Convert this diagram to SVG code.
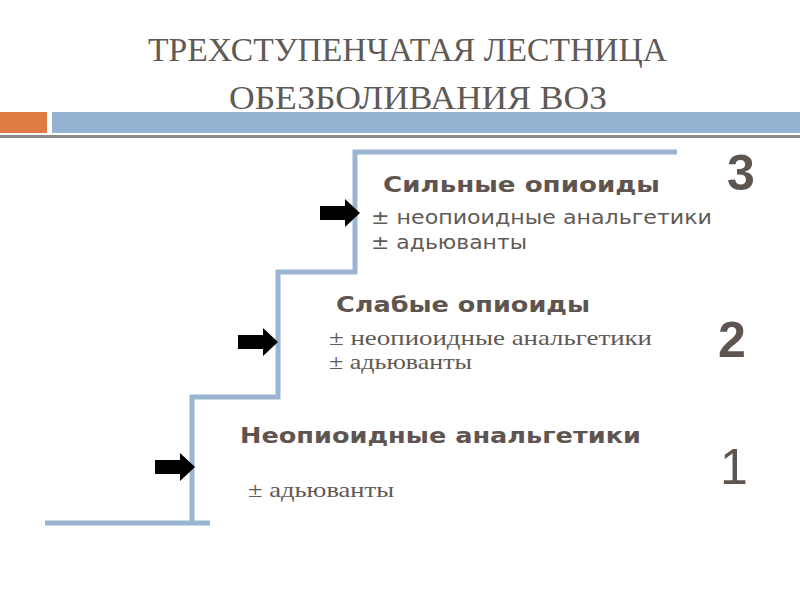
<svg xmlns="http://www.w3.org/2000/svg" width="800" height="600" viewBox="0 0 800 600">
<defs><style>
.t{font-family:"Liberation Serif",serif;fill:#5f5a55;font-size:34px}
.h{font-family:"DejaVu Sans","Liberation Sans",sans-serif;font-weight:bold;fill:#5f5550;font-size:22px}
.s{font-family:"DejaVu Sans","Liberation Sans",sans-serif;fill:#5f5a55;font-size:19px}
.s2{font-family:"Liberation Serif",serif;fill:#5f5a55;font-size:21px}
.n{font-family:"Liberation Sans",sans-serif;fill:#5f5550;font-size:50px}
</style>
<path id="ar" d="M0,-7 H25 V-14 L40,0 L25,14 V7 H0 Z" fill="#000"/></defs>
<rect width="800" height="600" fill="#fff"/>
<text class="t" x="148" y="61" textLength="519" lengthAdjust="spacingAndGlyphs">ТРЕХСТУПЕНЧАТАЯ ЛЕСТНИЦА</text>
<text class="t" x="229" y="109" textLength="378" lengthAdjust="spacingAndGlyphs">ОБЕЗБОЛИВАНИЯ ВОЗ</text>
<rect x="0" y="112" width="47" height="21" fill="#e07b45"/>
<rect x="52" y="112" width="748" height="21" fill="#94b3d2"/>
<rect x="0" y="135" width="800" height="3" fill="#8a8a8a"/>
<g id="connectors">
<path d="M45,523 H210 M192,523 V397 H278 V272 H355 V152 H677" fill="none" stroke="#9ab5d1" stroke-width="5"/>
<use href="#ar" x="320" y="213"/>
<use href="#ar" x="238" y="342"/>
<use href="#ar" x="155" y="467"/>
</g>
<g id="step3">
<text class="h" x="383" y="192" textLength="277" lengthAdjust="spacingAndGlyphs">Сильные опиоиды</text>
<text class="s" x="371" y="224" textLength="341" lengthAdjust="spacingAndGlyphs">± неопиоидные анальгетики</text>
<text class="s" x="371" y="249" textLength="156" lengthAdjust="spacingAndGlyphs">± адьюванты</text>
<text class="n" x="727" y="190" font-weight="bold">3</text>
</g>
<g id="step2">
<text class="h" x="336" y="312" textLength="254" lengthAdjust="spacingAndGlyphs">Слабые опиоиды</text>
<text class="s2" x="329" y="345" textLength="323" lengthAdjust="spacingAndGlyphs">± неопиоидные анальгетики</text>
<text class="s2" x="329" y="369" textLength="143" lengthAdjust="spacingAndGlyphs">± адьюванты</text>
<text class="n" x="718" y="357" font-weight="bold">2</text>
</g>
<g id="step1">
<text class="h" x="240" y="443" textLength="401" lengthAdjust="spacingAndGlyphs">Неопиоидные анальгетики</text>
<text class="s2" x="248" y="497" textLength="146" lengthAdjust="spacingAndGlyphs">± адьюванты</text>
<text class="n" x="720" y="484">1</text>
</g>
</svg>
